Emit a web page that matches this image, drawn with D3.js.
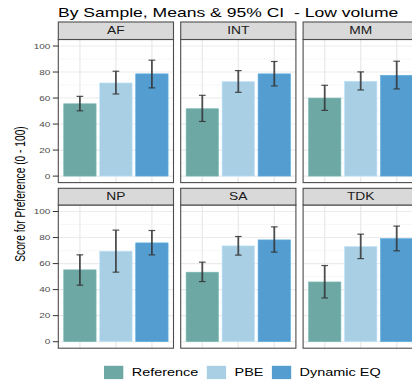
<!DOCTYPE html>
<html>
<head>
<meta charset="utf-8">
<script src="https://cdn.jsdelivr.net/npm/d3@7"></script>
<style>
  body { margin: 0; background: #fff; }
  svg { display: block; font-family: "Liberation Sans", Arial, sans-serif; }
</style>
</head>
<body>
<svg id="chart"></svg>
<script>
const width = 412;
const height = 383;
const sx = 1.35; // source picture is stretched sideways

const samples = ["AF", "INT", "MM", "NP", "SA", "TDK"];
const methods = ["Reference", "PBE", "Dynamic EQ"];
const colors = ["#6ea8a5", "#a9cfe4", "#549dd0"];

const meanReference = [55.6, 51.8, 60.0, 55.2, 53.4, 45.9];
const meanPBE = [71.6, 72.6, 72.9, 69.5, 73.6, 73.1];
const meanDynamic = [78.6, 78.6, 77.5, 75.9, 78.2, 79.2];

const lowerReference = [50.2, 42.0, 50.5, 43.4, 46.2, 33.6];
const upperReference = [61.3, 62.1, 69.8, 66.7, 61.1, 58.5];
const lowerPBE = [63.1, 64.4, 66.2, 53.4, 66.5, 63.8];
const upperPBE = [80.6, 81.1, 80.1, 85.7, 80.8, 82.6];
const lowerDynamic = [67.8, 69.3, 67.0, 66.7, 68.8, 69.8];
const upperDynamic = [89.1, 88.1, 88.3, 85.4, 88.2, 88.8];

const yTicks = [0, 20, 40, 60, 80, 100];
const yMinor = [10, 30, 50, 70, 90];

const means = [meanReference, meanPBE, meanDynamic];
const lowers = [lowerReference, lowerPBE, lowerDynamic];
const uppers = [upperReference, upperPBE, upperDynamic];

const svg = d3.select("#chart").attr("width", width).attr("height", height);
svg.append("rect").attr("width", width).attr("height", height).attr("fill", "#fff");

// layout
const panelLeft = 58.3, panelW = 115.2, panelGap = 7.2;
const rows = [
    { stripTop: 22, stripBottom: 39.5, bottom: 182.6 },
    { stripTop: 188.3, stripBottom: 205, bottom: 348.2 }
];

function stretchText(sel, x, y, rot) {
    return sel.attr("transform", `translate(${x},${y}) scale(${sx},1)` + (rot ? ` rotate(${rot})` : ""));
}

// title
stretchText(svg.append("text"), 58, 16.5)
    .attr("font-size", 13).attr("fill", "#000").style("white-space", "pre")
    .text("By Sample, Means & 95% CI  - Low volume");

// y axis title
stretchText(svg.append("text"), 24.5, 194, -90)
    .attr("font-size", 10.2).attr("text-anchor", "middle").attr("fill", "#000")
    .text("Score for Preference (0 - 100)");

samples.forEach((s, i) => {
    const r = rows[Math.floor(i / 3)];
    const c = i % 3;
    const x0 = panelLeft + c * (panelW + panelGap);
    const y = d3.scaleLinear().domain([-5, 105]).range([r.bottom, r.stripBottom]);
    const x = d3.scalePoint().domain(methods).range([x0, x0 + panelW]).padding(0.6);
    const barW = x.step() * 0.9;

    const g = svg.append("g");

    // grid
    g.selectAll(".minor").data(yMinor).enter().append("line")
        .attr("x1", x0).attr("x2", x0 + panelW)
        .attr("y1", d => y(d)).attr("y2", d => y(d))
        .attr("stroke", "#f2f2f2").attr("stroke-width", 0.6);
    g.selectAll(".major").data(yTicks).enter().append("line")
        .attr("x1", x0).attr("x2", x0 + panelW)
        .attr("y1", d => y(d)).attr("y2", d => y(d))
        .attr("stroke", "#ebebeb").attr("stroke-width", 1.1);
    g.selectAll(".vgrid").data(methods).enter().append("line")
        .attr("x1", d => x(d)).attr("x2", d => x(d))
        .attr("y1", r.stripBottom).attr("y2", r.bottom)
        .attr("stroke", "#ebebeb").attr("stroke-width", 1.4);

    const rowsData = methods.map((m, k) => ({
        m, k, mean: means[k][i], lo: lowers[k][i], hi: uppers[k][i]
    }));

    // bars
    g.selectAll(".bar").data(rowsData).enter().append("rect")
        .attr("x", d => x(d.m) - barW / 2)
        .attr("width", barW)
        .attr("y", d => y(d.mean))
        .attr("height", d => y(0) - y(d.mean))
        .attr("fill", d => colors[d.k])
        .attr("stroke", d => d3.color(colors[d.k]).brighter(0.3))
        .attr("stroke-width", 0.6);

    // error bars
    const capW = 6.7;
    g.selectAll(".err").data(rowsData).enter().append("line")
        .attr("x1", d => x(d.m)).attr("x2", d => x(d.m))
        .attr("y1", d => y(d.lo)).attr("y2", d => y(d.hi))
        .attr("stroke", "#333").attr("stroke-opacity", 0.85).attr("stroke-width", 1.8);
    ["lo", "hi"].forEach(key => {
        g.selectAll(".cap-" + key).data(rowsData).enter().append("line")
            .attr("x1", d => x(d.m) - capW / 2).attr("x2", d => x(d.m) + capW / 2)
            .attr("y1", d => y(d[key])).attr("y2", d => y(d[key]))
            .attr("stroke", "#333").attr("stroke-opacity", 0.85).attr("stroke-width", 1.2);
    });

    // panel border
    g.append("rect")
        .attr("x", x0).attr("y", r.stripBottom)
        .attr("width", panelW).attr("height", r.bottom - r.stripBottom)
        .attr("fill", "none").attr("stroke", "#4d4d4d").attr("stroke-width", 1.1);

    // strip
    g.append("rect")
        .attr("x", x0).attr("y", r.stripTop)
        .attr("width", panelW).attr("height", r.stripBottom - r.stripTop)
        .attr("fill", "#d9d9d9").attr("stroke", "#4d4d4d").attr("stroke-width", 1.1);
    stretchText(g.append("text"), x0 + panelW / 2, (r.stripTop + r.stripBottom) / 2 + 3.7)
        .attr("font-size", 10.2).attr("text-anchor", "middle").attr("fill", "#1a1a1a")
        .text(s);

    // y axis on first column
    if (c === 0) {
        g.selectAll(".tick").data(yTicks).enter().append("line")
            .attr("x1", x0 - 5.5).attr("x2", x0)
            .attr("y1", d => y(d)).attr("y2", d => y(d))
            .attr("stroke", "#333").attr("stroke-width", 1);
        g.selectAll(".tlabel").data(yTicks).enter().append("text")
            .each(function (d) { stretchText(d3.select(this), x0 - 8, y(d) + 2.7); })
            .attr("font-size", 7.4).attr("text-anchor", "end").attr("fill", "#4d4d4d")
            .text(d => d);
    }
});

// legend
const legend = svg.append("g");
let lx = 104;
const keyW = 19.3, keyH = 13.3, keyTop = 365.8;
methods.forEach((m, k) => {
    legend.append("rect")
        .attr("x", lx).attr("y", keyTop).attr("width", keyW).attr("height", keyH)
        .attr("fill", colors[k]);
    const t = stretchText(legend.append("text"), lx + keyW + 8.4, keyTop + keyH / 2 + 3.8)
        .attr("font-size", 10.7).attr("fill", "#000").text(m);
    lx += keyW + 8.4 + t.node().getComputedTextLength() * sx + 8.5;
});
</script>
</body>
</html>
